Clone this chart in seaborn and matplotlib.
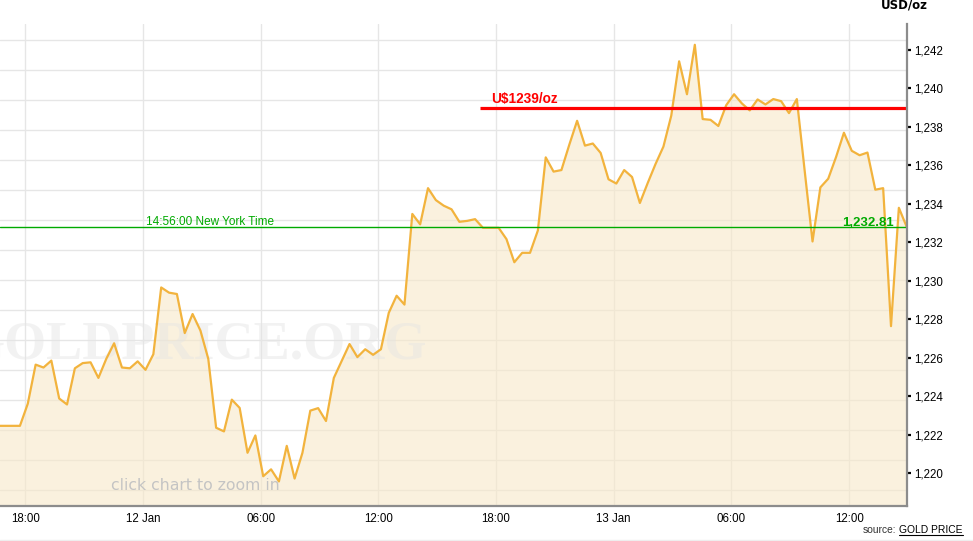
import matplotlib
matplotlib.use("Agg")
import matplotlib.pyplot as plt
from matplotlib.lines import Line2D
import pandas as pd
import seaborn as sns

# ---------------- data ----------------
START = "2015-01-11 16:32"
END = "2015-01-13 14:56"
FREQ = "24min"   # sampling interval of the series

prices = [
    1222.47, 1222.47, 1222.47, 1222.47, 1223.62, 1225.65, 1225.50, 1225.86,
    1223.89, 1223.58, 1225.46, 1225.73, 1225.77, 1224.96, 1225.95, 1226.76,
    1225.50, 1225.46, 1225.82, 1225.38, 1226.19, 1229.66, 1229.39, 1229.32,
    1227.29, 1228.28, 1227.42, 1225.95, 1222.37, 1222.18, 1223.83, 1223.40,
    1221.07, 1221.97, 1219.85, 1220.21, 1219.58, 1221.43, 1219.73, 1221.07,
    1223.26, 1223.39, 1222.72, 1224.96, 1225.84, 1226.72, 1226.04, 1226.45,
    1226.16, 1226.45, 1228.34, 1229.23, 1228.77, 1233.48, 1232.94, 1234.82,
    1234.20, 1233.91, 1233.72, 1233.07, 1233.12, 1233.21, 1232.76, 1232.76,
    1232.76, 1232.17, 1230.97, 1231.46, 1231.46, 1232.62, 1236.42, 1235.68,
    1235.76, 1237.07, 1238.32, 1237.03, 1237.14, 1236.65, 1235.28, 1235.06,
    1235.76, 1235.40, 1234.05, 1235.09, 1236.08, 1236.98, 1238.59, 1241.41,
    1239.70, 1242.27, 1238.41, 1238.37, 1238.05, 1239.13, 1239.70, 1239.22,
    1238.86, 1239.43, 1239.17, 1239.45, 1239.34, 1238.72, 1239.45, 1235.72,
    1232.05, 1234.86, 1235.31, 1236.44, 1237.70, 1236.76, 1236.53, 1236.67,
    1234.74, 1234.82, 1227.65, 1233.80, 1232.81,
]

last_price = 1232.81
target_price = 1239
target_label = "U$1239/oz"
target_start = "2015-01-12 17:12"
ny_time_label = "14:56:00 New York Time"
unit_label = "USD/oz"
watermark = "GOLDPRICE.ORG"
zoom_hint = "click chart to zoom in"
source_prefix = "source:"
source_name = "GOLD PRICE"

ytick_values = list(range(1220, 1243, 2))
xtick_times = ["2015-01-11 18:00", "2015-01-12 00:00", "2015-01-12 06:00",
               "2015-01-12 12:00", "2015-01-12 18:00", "2015-01-13 00:00",
               "2015-01-13 06:00", "2015-01-13 12:00"]
xtick_labels = ["18:00", "12 Jan", "06:00", "12:00", "18:00", "13 Jan",
                "06:00", "12:00"]
x_left = "2015-01-11 16:43"
y_low, y_high = 1218.32, 1243.35

times = pd.date_range(START, END, freq=FREQ)
df = pd.DataFrame({"time": times, "price": prices})

# ---------------- style ----------------
sns.set_style("white")
plt.rcParams["font.family"] = ["Liberation Sans", "DejaVu Sans"]

W, H = 973, 541
fig = plt.figure(figsize=(W / 100, H / 100), dpi=100)
fig.patch.set_facecolor("white")

def fx(px):
    return px / W

def fy(py):
    return 1 - py / H

ax_top, ax_bot, ax_right = 24, 505.7, 906.7
ax = fig.add_axes([0, fy(ax_bot), fx(ax_right), (ax_bot - ax_top) / H])
ax.set_facecolor("white")

# horizontal grid (independent of ticks in the reference)
for k in range(16):
    ypx = 40.3 + 30 * k
    f = (ax_bot - ypx) / (ax_bot - ax_top)
    ax.add_line(Line2D([0, 1], [f, f], transform=ax.transAxes,
                       color="#E6E6E6", lw=1.0, zorder=0))

# area + line
ax.fill_between(df["time"], df["price"], y_low, color="#F8E9C8",
                alpha=0.6, lw=0, zorder=1)
sns.lineplot(data=df, x="time", y="price", ax=ax, color="#F2B33D",
             lw=1.6, zorder=4)

# watermark
ax.text(fx(195), fy(358.8), watermark, transform=fig.transFigure,
        ha="center", va="baseline", fontsize=39, fontweight="bold",
        family=["Liberation Serif", "DejaVu Serif"], color="#E4E4E4",
        alpha=0.45, zorder=3, clip_on=True)

# reference lines
ax.axhline(last_price, color="#00AA00", lw=1.0, zorder=5)
ax.hlines(target_price, pd.Timestamp(target_start), times[-1],
          color="#FF0000", lw=2.3, zorder=6)

# axes limits / ticks
ax.set_xlim(pd.Timestamp(x_left), times[-1])
ax.set_ylim(y_low, y_high)
ax.set_xticks(pd.to_datetime(xtick_times))
ax.set_xticklabels(xtick_labels)
ax.set_yticks(ytick_values)
ax.set_yticklabels([f"{v:,}" for v in ytick_values])
ax.yaxis.tick_right()
ax.grid(axis="x", color="#E6E6E6", lw=1.0, zorder=0)
ax.set_axisbelow(True)
ax.set_xlabel("")
ax.set_ylabel("")

ax.tick_params(axis="x", direction="out", length=3, width=1.6,
               color="black", labelsize=8.3, pad=2.5, labelcolor="black")
ax.tick_params(axis="y", direction="out", length=3, width=1.6,
               color="black", labelsize=8.3, pad=2.2, labelcolor="black",
               left=False, right=True)

for s in ["top", "left"]:
    ax.spines[s].set_visible(False)
for s in ["right", "bottom"]:
    ax.spines[s].set_visible(True)
    ax.spines[s].set_color("#8C8C8C")
    ax.spines[s].set_linewidth(1.6)
    ax.spines[s].set_zorder(7)

# texts
fig.text(fx(146), fy(225), ny_time_label, color="#00AA00", fontsize=8.5,
         ha="left", va="baseline")
fig.text(fx(894), fy(225.7), f"{last_price:,.2f}", color="#00AA00",
         fontsize=9.5, fontweight="bold", ha="right", va="baseline")
fig.text(fx(490.7), fy(103.3), target_label, color="#FF0000", fontsize=9.8,
         fontweight="bold", ha="left", va="baseline")
fig.text(fx(110.7), fy(490), zoom_hint, color="#C4C4C4", fontsize=11.3,
         family=["DejaVu Sans"], ha="left", va="baseline")
fig.text(fx(880.7), fy(9), unit_label, color="black", fontsize=8.5,
         fontweight="bold", family=["DejaVu Sans"], ha="left", va="baseline")

src = fig.text(fx(962.7), fy(533.3), source_name, color="black",
               fontsize=7.4, ha="right", va="baseline")
fig.canvas.draw()
bb = src.get_window_extent()
fig.text((bb.x0 - 3) / W, fy(533.3), source_prefix, color="#333333",
         fontsize=7.4, ha="right", va="baseline")
uy = (H - 535.2) / H
fig.add_artist(Line2D([bb.x0 / W, bb.x1 / W], [uy, uy], color="black",
                      lw=0.8, transform=fig.transFigure))

# faint bottom border
fig.add_artist(Line2D([0, 1], [fy(539.5), fy(539.5)], color="#EEEEEE",
                      lw=1.0, transform=fig.transFigure))

fig.savefig("out.png", dpi=100, facecolor="white")
